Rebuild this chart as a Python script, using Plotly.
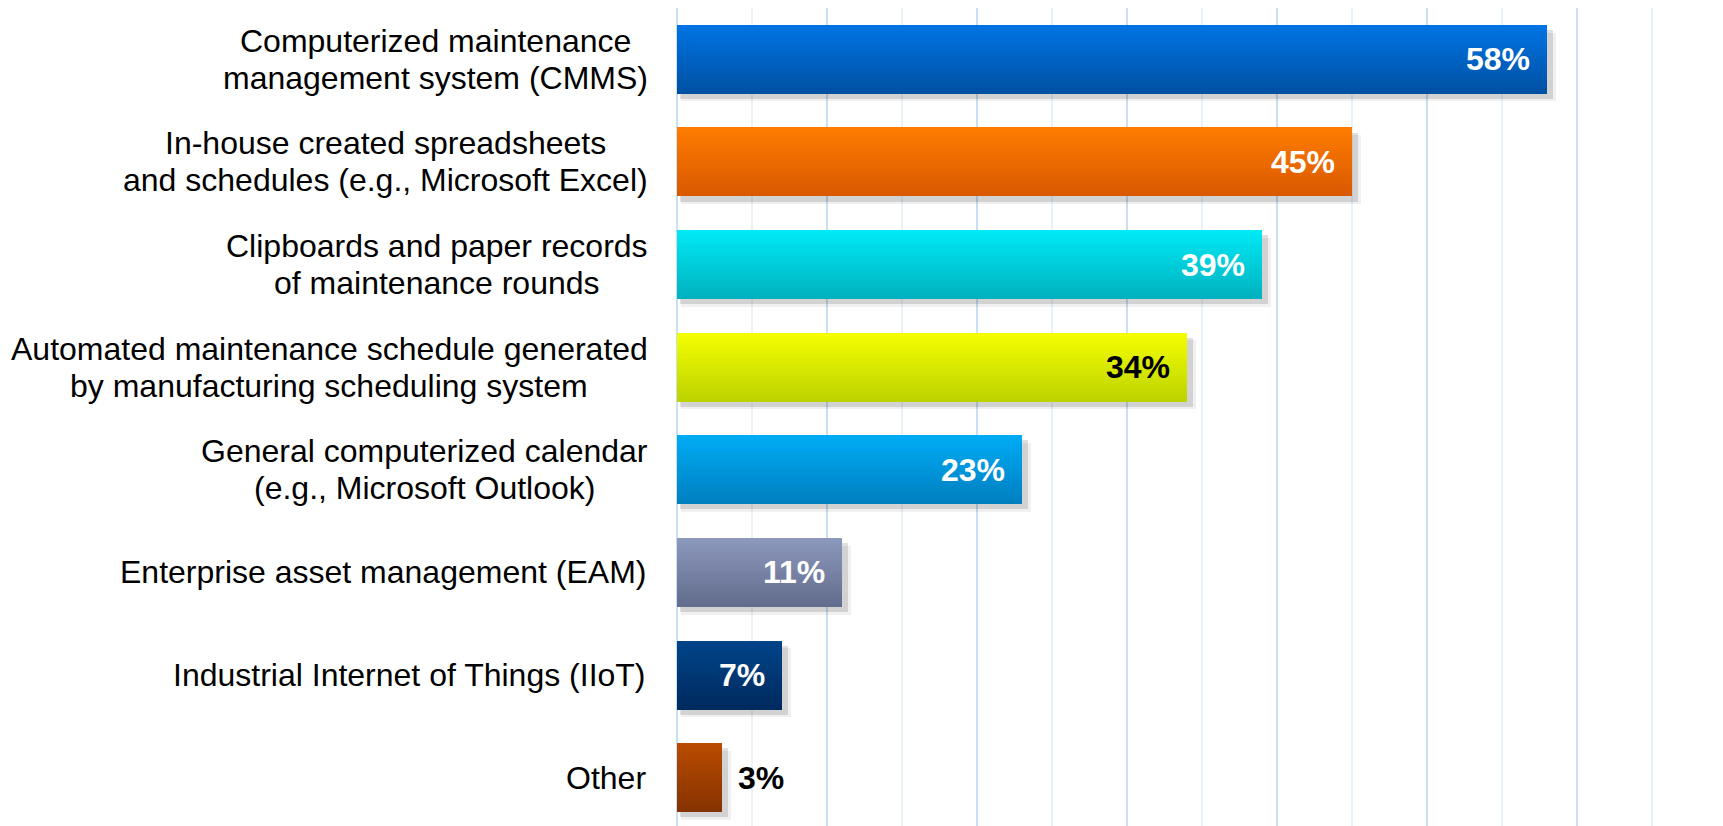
import plotly.graph_objects as go

# ---------------- data ----------------
categories = [
    "Computerized maintenance<br>management system (CMMS)",
    "In-house created spreadsheets<br>and schedules (e.g., Microsoft Excel)",
    "Clipboards and paper records<br>of maintenance rounds",
    "Automated maintenance schedule generated<br>by manufacturing scheduling system",
    "General computerized calendar<br>(e.g., Microsoft Outlook)",
    "Enterprise asset management (EAM)",
    "Industrial Internet of Things (IIoT)",
    "Other",
]
values = [58, 45, 39, 34, 23, 11, 7, 3]
value_labels = ["58%", "45%", "39%", "34%", "23%", "11%", "7%", "3%"]

# ---------------- styles ----------------
top_colors = [(0, 116, 228), (255, 124, 0), (0, 234, 246), (245, 255, 0),
              (0, 172, 246), (140, 152, 188), (0, 68, 138), (186, 76, 0)]
bottom_colors = [(0, 80, 162), (216, 88, 0), (0, 176, 190), (188, 210, 0),
                 (0, 126, 190), (98, 108, 140), (0, 42, 94), (132, 50, 0)]
label_colors = ["white", "white", "white", "black", "white", "white", "white", "black"]

FONT = "Liberation Sans, Arial, sans-serif"
CAT_SIZE = 32
BAR_W = 0.672
N_STRIPES = 24
LINE_H = 37
LABEL_GAP = 29

ypos = list(range(len(categories)))

fig = go.Figure()

# soft shadow
for dy, dx, alpha in [(0.075, 0.3, 0.06), (0.05, 0.2, 0.12)]:
    fig.add_trace(go.Bar(
        y=ypos, x=[v + dx for v in values], base=[dx] * len(values),
        orientation="h", width=BAR_W, offset=-BAR_W / 2 + dy,
        marker=dict(color=f"rgba(0,0,0,{alpha})", line=dict(width=0)),
        hoverinfo="skip", showlegend=False,
    ))

# gradient stripes
step = BAR_W / N_STRIPES
for k in range(N_STRIPES):
    t = (k + 0.5) / N_STRIPES
    cols = []
    for c0, c1 in zip(top_colors, bottom_colors):
        r, g, b = (round(a + (bb - a) * t) for a, bb in zip(c0, c1))
        cols.append(f"rgb({r},{g},{b})")
    w = step * (1.6 if k < N_STRIPES - 1 else 1.0)
    fig.add_trace(go.Bar(
        y=ypos, x=values, orientation="h",
        width=w, offset=-BAR_W / 2 + k * step,
        marker=dict(color=cols, line=dict(width=0)),
        hoverinfo="skip", showlegend=False,
    ))

# approximate Liberation Sans glyph widths (em) to centre lines in a block
W = {ch: 0.556 for ch in "abdeghnopqu"}
W.update({"f": 0.278, "i": 0.222, "j": 0.222, "l": 0.222, "t": 0.278, "r": 0.333,
          "k": 0.5, "c": 0.5, "s": 0.5, "v": 0.5, "x": 0.5, "y": 0.5, "z": 0.5,
          "m": 0.833, "w": 0.722, " ": 0.278, "(": 0.333, ")": 0.333, ",": 0.278,
          ".": 0.278, "-": 0.333, "C": 0.722, "M": 0.833, "S": 0.667, "E": 0.667,
          "I": 0.278, "A": 0.667, "G": 0.778, "O": 0.778, "T": 0.611})


def text_w(s, size=CAT_SIZE):
    return sum(W.get(ch, 0.556) for ch in s) * size


annotations = []
# category labels: block right-aligned, lines centred on each other
for i, cat in enumerate(categories):
    lines = cat.split("<br>")
    n = len(lines)
    block_w = max(text_w(l) for l in lines)
    for j, line in enumerate(lines):
        if n > 1:
            xanchor, xshift = "center", -LABEL_GAP - block_w / 2
        else:
            xanchor, xshift = "right", -LABEL_GAP
        annotations.append(dict(
            x=0, y=i, xref="x", yref="y", text=line, showarrow=False,
            xanchor=xanchor, yanchor="middle",
            xshift=xshift, yshift=((n - 1) / 2 - j) * LINE_H,
            font=dict(family=FONT, size=CAT_SIZE, color="black"),
        ))

# value labels
for i, (v, lab, col) in enumerate(zip(values, value_labels, label_colors)):
    inside = v >= 5
    annotations.append(dict(
        x=v, y=i, xref="x", yref="y", text=f"<b>{lab}</b>", showarrow=False,
        xanchor="right" if inside else "left", yanchor="middle",
        xshift=-15 if inside else 14,
        font=dict(family=FONT, size=32, color=col),
    ))

fig.update_layout(
    width=1723, height=826,
    margin=dict(l=667, r=0, t=0, b=5),
    paper_bgcolor="white", plot_bgcolor="white",
    barmode="overlay", bargap=0,
    showlegend=False,
    annotations=annotations,
    xaxis=dict(
        range=[-0.1, 70.3], dtick=10, tick0=0,
        showgrid=True, gridcolor="#C9DFF4", gridwidth=2,
        zeroline=True, zerolinecolor="#C9DFF4", zerolinewidth=2,
        showticklabels=False, ticks="", showline=False,
        minor=dict(dtick=5, tick0=0, showgrid=True, gridcolor="#E9F2FB", gridwidth=2),
    ),
    yaxis=dict(
        range=[7.5, -0.5], showticklabels=False, showgrid=False,
        zeroline=False, ticks="", showline=False,
    ),
)

fig.write_html("out.html")
